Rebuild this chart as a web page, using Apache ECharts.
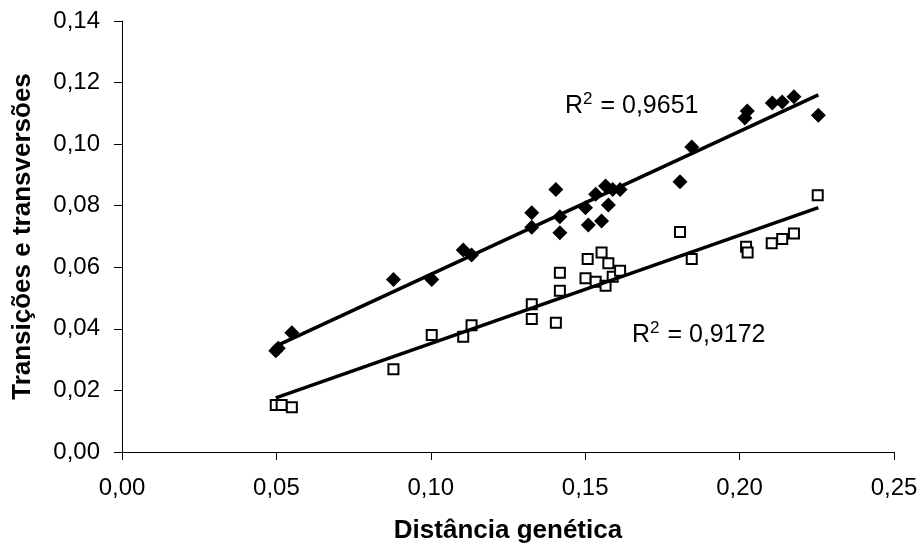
<!DOCTYPE html>
<html>
<head>
<meta charset="utf-8">
<script src="https://cdn.jsdelivr.net/npm/echarts@6/dist/echarts.min.js"></script>
<style>
    html, body { margin: 0; padding: 0; background: #fff; }
    #chart { width: 921px; height: 549px; }
</style>
</head>
<body>
<div id="chart"></div>
<script>
    // transições (losangos pretos) - [distância, valor]
    var transicoes = [
        [0.0498, 0.0329], [0.0506, 0.0337], [0.0550, 0.0387], [0.0879, 0.0560],
        [0.1003, 0.0560], [0.1105, 0.0656], [0.1132, 0.0640], [0.1327, 0.0777],
        [0.1327, 0.0730], [0.1405, 0.0853], [0.1418, 0.0764], [0.1418, 0.0712],
        [0.1501, 0.0793], [0.1510, 0.0737], [0.1534, 0.0837], [0.1553, 0.0750],
        [0.1566, 0.0864], [0.1575, 0.0802], [0.1589, 0.0853], [0.1613, 0.0853],
        [0.1807, 0.0878], [0.1845, 0.0991], [0.2017, 0.1085], [0.2025, 0.1108],
        [0.2106, 0.1134], [0.2138, 0.1137], [0.2176, 0.1154], [0.2255, 0.1094]
    ];
    // transversões (quadrados vazios)
    var transversoes = [
        [0.0498, 0.0153], [0.0517, 0.0153], [0.0550, 0.0145], [0.0879, 0.0269],
        [0.1003, 0.0380], [0.1105, 0.0374], [0.1132, 0.0412], [0.1327, 0.0480],
        [0.1327, 0.0432], [0.1405, 0.0420], [0.1418, 0.0582], [0.1418, 0.0524],
        [0.1501, 0.0564], [0.1508, 0.0627], [0.1534, 0.0553], [0.1553, 0.0648],
        [0.1566, 0.0540], [0.1575, 0.0613], [0.1589, 0.0569], [0.1613, 0.0589],
        [0.1807, 0.0715], [0.1845, 0.0627], [0.2021, 0.0667], [0.2026, 0.0648],
        [0.2104, 0.0678], [0.2138, 0.0692], [0.2176, 0.0710], [0.2253, 0.0834]
    ];
    // linhas de tendência (extremos)
    var tendTransicoes = [[0.0500, 0.0345], [0.2255, 0.1160]];
    var tendTransversoes = [[0.0498, 0.0176], [0.2255, 0.0794]];
    var r2Labels = ['0,9651', '0,9172'];

    var fonte = '"Liberation Sans", Arial, sans-serif';
    function virgula(v) { return v.toFixed(2).replace('.', ','); }
    function r2Text(v) { return '{a|R}{s|2}{a| = ' + v + '}'; }
    var r2Rich = {
        a: { fontSize: 25, fontFamily: fonte, color: '#000' },
        s: { fontSize: 17, fontFamily: fonte, color: '#000', padding: [0, 1, 14, 0] }
    };

    var chart = echarts.init(document.getElementById('chart'));
    var option = {
        animation: false,
        backgroundColor: '#fff',
        grid: { left: 122, right: 27, top: 21, bottom: 97 },
        xAxis: {
            type: 'value',
            min: 0, max: 0.25, interval: 0.05,
            name: 'Distância genética',
            nameLocation: 'middle',
            nameGap: 66,
            nameTextStyle: { fontFamily: fonte, fontWeight: 'bold', fontSize: 26, color: '#000' },
            axisLine: { lineStyle: { color: '#000', width: 1 } },
            axisTick: { length: 8, lineStyle: { color: '#000' } },
            axisLabel: { margin: 24, fontFamily: fonte, fontSize: 24, color: '#000', formatter: virgula },
            splitLine: { show: false }
        },
        yAxis: {
            type: 'value',
            min: 0, max: 0.14, interval: 0.02,
            name: 'Transições e transversões',
            nameLocation: 'middle',
            nameGap: 86,
            nameTextStyle: { fontFamily: fonte, fontWeight: 'bold', fontSize: 26, color: '#000' },
            axisLine: { show: true, lineStyle: { color: '#000', width: 1 } },
            axisTick: { show: true, length: 8, lineStyle: { color: '#000' } },
            axisLabel: { margin: 22, fontFamily: fonte, fontSize: 24, color: '#000', formatter: virgula },
            splitLine: { show: false }
        },
        series: [
            {
                name: 'transições',
                type: 'scatter',
                symbol: 'diamond',
                symbolSize: 15,
                itemStyle: { color: '#000', opacity: 1 },
                data: transicoes
            },
            {
                name: 'transversões',
                type: 'scatter',
                symbol: 'rect',
                symbolSize: 10,
                itemStyle: { color: '#fff', borderColor: '#000', borderWidth: 2, opacity: 1 },
                data: transversoes
            },
            {
                type: 'line',
                symbol: 'none',
                lineStyle: { color: '#000', width: 3.5 },
                data: tendTransicoes
            },
            {
                type: 'line',
                symbol: 'none',
                lineStyle: { color: '#000', width: 3.5 },
                data: tendTransversoes
            }
        ],
        graphic: [
            {
                type: 'text', x: 565, y: 106,
                style: { text: r2Text(r2Labels[0]), rich: r2Rich, verticalAlign: 'middle' }
            },
            {
                type: 'text', x: 632, y: 335,
                style: { text: r2Text(r2Labels[1]), rich: r2Rich, verticalAlign: 'middle' }
            }
        ]
    };
    chart.setOption(option);
</script>
</body>
</html>
